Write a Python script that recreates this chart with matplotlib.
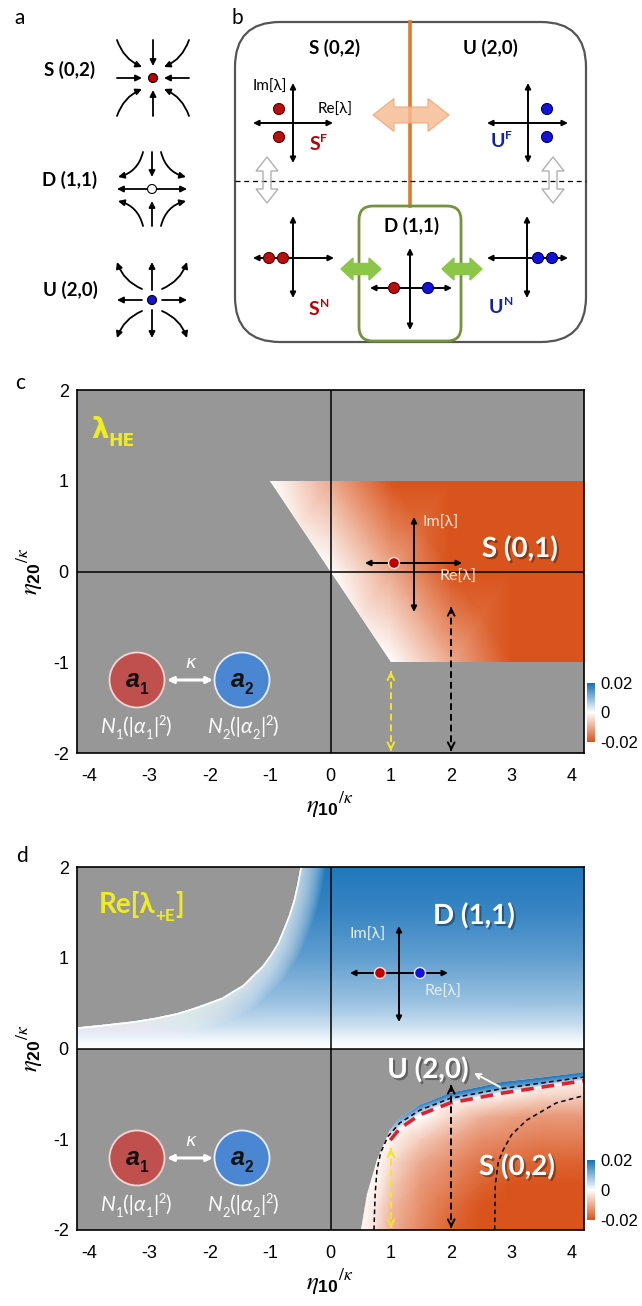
import matplotlib
matplotlib.use('Agg')
import matplotlib.pyplot as plt
import numpy as np
from matplotlib.colors import LinearSegmentedColormap, Normalize
from matplotlib.patches import Polygon, FancyBboxPatch, Circle, FancyArrowPatch
from matplotlib.cm import ScalarMappable
import matplotlib.patheffects as pe

plt.rcParams['axes.unicode_minus'] = False
plt.rcParams['mathtext.fontset'] = 'custom'
plt.rcParams['mathtext.rm'] = 'STIXGeneral'
plt.rcParams['mathtext.it'] = 'STIXGeneral:italic'
plt.rcParams['mathtext.bf'] = 'Liberation Sans:bold'

W, H = 642, 1306
SANS = ['Lato', 'DejaVu Sans']
ARIAL = ['Liberation Sans', 'DejaVu Sans']

# ------------------------------------------------------------------ data
x_ticks = [-4, -3, -2, -1, 0, 1, 2, 3, 4]
y_ticks = [-2, -1, 0, 1, 2]
cbar_ticks = [-0.02, 0.0, 0.02]
cbar_labels = ['-0.02', '0', '0.02']
VMIN, VMAX = -0.02, 0.02

# panel c : lambda_HE, stable region S(0,1)
c_region_x = [-1.0, 4.25, 4.25, 1.0]
c_region_y = [1.0, 1.0, -1.0, -1.0]
c_grid_x = [-1.2, -1.0, 0.0, 1.0, 2.0, 3.0, 4.25]
c_grid_y = [-1.0, 0.0, 1.0]
c_grid_v = [[0, 0, 0, 0, -0.010, -0.020, -0.020],
            [0, 0, 0, -0.010, -0.020, -0.020, -0.020],
            [0, 0, -0.010, -0.020, -0.020, -0.020, -0.020]]

# vertical double arrows (yellow at eta10=1, black at eta10=2)
arrow_x = [1.0, 2.0]
c_arrow_top = [-1.10, -0.39]
d_arrow_top = [-1.10, -0.40]
arrow_bottom = -1.98

# panel d : Re[lambda_+E]
d_up_edge_x = [-4.25, -3.8, -3.26, -2.9, -2.54, -2.3, -2.04, -1.8, -1.60, -1.45, -1.27,
               -1.13, -1.00, -0.88, -0.78, -0.69, -0.61, -0.55, -0.50]
d_up_edge_y = [0.23, 0.26, 0.30, 0.34, 0.39, 0.44, 0.50, 0.56, 0.64, 0.70, 0.82,
               0.91, 1.03, 1.16, 1.32, 1.47, 1.64, 1.82, 2.0]
d_up_prof_y = [0.0, 0.08, 0.25, 0.5, 0.75, 1.0, 1.5, 2.0]
d_up_prof_v = [0.0, 0.0008, 0.0045, 0.0085, 0.011, 0.0135, 0.017, 0.019]

d_outer_x = [0.50, 0.61, 0.77, 0.90, 0.99, 1.15, 1.48, 1.98, 2.86, 4.25]
d_outer_y = [-2.0, -1.60, -1.23, -1.02, -0.90, -0.77, -0.62, -0.49, -0.37, -0.255]
d_bd1_x = [0.72, 0.74, 0.77, 0.83, 0.95, 1.15, 1.48, 1.98, 2.86, 4.25]
d_bd1_y = [-2.0, -1.60, -1.34, -1.15, -0.97, -0.82, -0.68, -0.55, -0.44, -0.31]
d_red_x = [0.99, 1.15, 1.48, 1.98, 2.86, 4.25]
d_red_y = [-1.01, -0.88, -0.73, -0.60, -0.49, -0.35]
d_bd2_x = [2.72, 2.73, 2.78, 2.86, 3.00, 3.25, 3.74, 4.25]
d_bd2_y = [-2.0, -1.50, -1.25, -1.12, -0.95, -0.79, -0.60, -0.51]

d_band_x = [0.99, 1.15, 1.48, 1.98, 2.86, 4.25]
d_band_y = [[-0.90, -0.77, -0.62, -0.49, -0.37, -0.255],
            [-0.95, -0.82, -0.68, -0.55, -0.44, -0.31],
            [-1.01, -0.88, -0.73, -0.60, -0.49, -0.35]]
d_band_v = [[0.008, 0.014, 0.018, 0.020, 0.020, 0.020],
            [0.004, 0.008, 0.010, 0.011, 0.012, 0.013],
            [0.0, 0.0, 0.0, 0.0, 0.0, 0.0]]

d_low_grid_x = [0.25, 0.5, 0.75, 1.0, 1.5, 2.0, 2.5, 3.0, 3.5, 4.25]
d_low_grid_y = [-2.0, -1.75, -1.5, -1.25, -1.0, -0.75, -0.5, -0.25]
d_low_grid_v = [[0, 0, -0.004, -0.009, -0.014, -0.018, -0.020, -0.020, -0.020, -0.020],
                [0, 0, -0.003, -0.008, -0.013, -0.017, -0.020, -0.020, -0.020, -0.020],
                [0, 0, -0.001, -0.006, -0.012, -0.015, -0.018, -0.020, -0.020, -0.020],
                [0, 0, 0, -0.004, -0.010, -0.013, -0.016, -0.017, -0.018, -0.018],
                [0, 0, 0, -0.001, -0.006, -0.010, -0.013, -0.014, -0.015, -0.015],
                [0, 0, 0, 0, 0, -0.005, -0.009, -0.011, -0.012, -0.012],
                [0, 0, 0, 0, 0, 0, 0, -0.002, -0.004, -0.005],
                [0, 0, 0, 0, 0, 0, 0, 0, 0, 0]]

# ------------------------------------------------------------------ style
GRAY = '#979797'
CMAP = LinearSegmentedColormap.from_list(
    'ob', [(0.0, '#D9531C'), (0.5, '#FFFFFF'), (1.0, '#1570B8')])
NORM = Normalize(VMIN, VMAX)
RED = '#B80F0F'
BLUE = '#1212D8'

fig = plt.figure(figsize=(W / 100, H / 100), dpi=100)


def add_ax(left, top, right, bottom, **kw):
    return fig.add_axes([left / W, 1 - bottom / H, (right - left) / W, (bottom - top) / H], **kw)


ov = add_ax(0, 0, W, H, zorder=10)
ov.set_xlim(0, W)
ov.set_ylim(H, 0)
ov.axis('off')
ov.patch.set_alpha(0)
renderer = fig.canvas.get_renderer()


def rich(x, y, parts, size, color, weight='bold', family=SANS, ha='center', shadow=False):
    """x centre, y baseline (overlay px)"""
    items = []
    cx = 0.0
    for p in parts:
        s, kind = p[0], p[1]
        style = p[2] if len(p) > 2 else 'normal'
        fs = size * (0.62 if kind != 'n' else 1.0)
        dy = {'n': 0.0, 'sub': 0.30 * size * 100 / 72, 'sup': -0.40 * size * 100 / 72}[kind]
        t = ov.text(0, 0, s, fontsize=fs, color=color, fontweight=weight, fontstyle=style,
                    family=family, ha='left', va='baseline', zorder=8)
        w = t.get_window_extent(renderer).width
        items.append((t, cx, dy))
        cx += w
    x0 = x - cx / 2 if ha == 'center' else x
    for t, ox, dy in items:
        t.set_position((x0 + ox, y + dy))
        if shadow:
            t.set_path_effects([pe.withSimplePatchShadow(offset=(1.5, -1.5), shadow_rgbFace='k', alpha=0.35)])


def arrow(p0, p1, rad=0.0, lw=1.3, ms=9, style='-|>', color='k', ls='-'):
    ov.add_patch(FancyArrowPatch(p0, p1, arrowstyle=style, connectionstyle=f'arc3,rad={rad}',
                                 mutation_scale=ms, lw=lw, color=color, shrinkA=0, shrinkB=0,
                                 linestyle=ls, zorder=6))


def fat_double(cx, cy, L, hw, bw, hl, fc, ec, lw=1.0, alpha=1.0, vertical=False, z=3):
    a = L / 2
    pts = [(-a, 0), (-a + hl, hw), (-a + hl, bw), (a - hl, bw), (a - hl, hw), (a, 0),
           (a - hl, -hw), (a - hl, -bw), (-a + hl, -bw), (-a + hl, -hw)]
    if vertical:
        pts = [(q, p) for p, q in pts]
    ov.add_patch(Polygon([(cx + p, cy + q) for p, q in pts], closed=True, fc=fc, ec=ec,
                         lw=lw, alpha=alpha, zorder=z))


def dot(x, y, r, fc, ec='k', lw=0.8):
    ov.add_patch(Circle((x, y), r, fc=fc, ec=ec, lw=lw, zorder=7))


def cross(cx, cy, x0, x1, y0, y1, lw=1.4, ms=8):
    arrow((x0, cy), (x1, cy), style='<|-|>', lw=lw, ms=ms)
    arrow((cx, y0), (cx, y1), style='<|-|>', lw=lw, ms=ms)


# ------------------------------------------------------------------ panel a
ov.text(20, 18, 'a', fontsize=15, family=SANS, ha='center', va='center')
for lab, cy in [('S (0,2)', 70), ('D (1,1)', 180), ('U (2,0)', 290)]:
    ov.text(70, cy, lab, fontsize=13.5, fontweight='bold', family=SANS, ha='center', va='center')

RA = 0.22
# S (0,2) stable node
cx, cy = 153, 78
for (a0, a1) in [((-36, 0), (-11, 0)), ((36, 0), (11, 0)), ((0, -38), (0, -12)), ((0, 38), (0, 12))]:
    arrow((cx + a0[0], cy + a0[1]), (cx + a1[0], cy + a1[1]))
for (a0, a1, r) in [((-36, -38), (-11, -11), RA), ((36, -38), (11, -11), -RA),
                    ((-36, 38), (-11, 11), -RA), ((36, 38), (11, 11), RA)]:
    arrow((cx + a0[0], cy + a0[1]), (cx + a1[0], cy + a1[1]), rad=r)
dot(cx, cy, 4.5, '#C00000')

# D (1,1) saddle
cx, cy = 152, 189
for (a0, a1) in [((-5, 0), (-35, 0)), ((5, 0), (35, 0)), ((0, -37), (0, -12)), ((0, 37), (0, 12))]:
    arrow((cx + a0[0], cy + a0[1]), (cx + a1[0], cy + a1[1]))
for (a0, a1, r) in [((-9, -37), (-34, -12), -0.3), ((9, -37), (34, -12), 0.3),
                    ((-9, 37), (-34, 12), 0.3), ((9, 37), (34, 12), -0.3)]:
    arrow((cx + a0[0], cy + a0[1]), (cx + a1[0], cy + a1[1]), rad=r)
dot(cx, cy, 4.5, 'white')

# U (2,0) unstable node
cx, cy = 152, 300
for (a0, a1) in [((-10, 0), (-35, 0)), ((10, 0), (35, 0)), ((0, -10), (0, -38)), ((0, 10), (0, 38))]:
    arrow((cx + a0[0], cy + a0[1]), (cx + a1[0], cy + a1[1]))
for (a0, a1, r) in [((-10, -11), (-35, -38), -RA), ((10, -11), (35, -38), RA),
                    ((-10, 11), (-35, 38), RA), ((10, 11), (35, 38), -RA)]:
    arrow((cx + a0[0], cy + a0[1]), (cx + a1[0], cy + a1[1]), rad=r)
dot(cx, cy, 4.5, BLUE)

# ------------------------------------------------------------------ panel b
ov.text(237, 18, 'b', fontsize=15, family=SANS, ha='center', va='center')
ov.add_patch(FancyBboxPatch((235, 22), 351, 320, boxstyle='round,pad=0,rounding_size=45',
                            fc='white', ec='#555555', lw=1.6, zorder=1))
ov.plot([410, 410], [22, 206], color='#E07A28', lw=2.6, zorder=2)
ov.plot([235, 586], [181, 181], color='k', lw=0.9, ls=(0, (4, 3)), zorder=2)
ov.add_patch(FancyBboxPatch((359, 206), 102, 135, boxstyle='round,pad=0,rounding_size=14',
                            fc='none', ec='#76923C', lw=2.0, zorder=2))
ov.text(335, 48, 'S (0,2)', fontsize=13.5, fontweight='bold', family=SANS, ha='center', va='center')
ov.text(490, 48, 'U (2,0)', fontsize=13.5, fontweight='bold', family=SANS, ha='center', va='center')
ov.text(412, 226, 'D (1,1)', fontsize=13.5, fontweight='bold', family=SANS, ha='center', va='center')

fat_double(411, 115, 76, 16.5, 8, 21, '#F6BC94', '#EFA26E', lw=0.8, alpha=0.85)
fat_double(361, 269, 40, 11, 5.5, 12, '#8CC646', '#8CC646')
fat_double(462, 269, 40, 11, 5.5, 12, '#8CC646', '#8CC646')
fat_double(267, 180, 46, 11, 4, 14, 'none', '#B0B0B0', lw=1.0, vertical=True)
fat_double(553, 180, 46, 11, 4, 14, 'none', '#B0B0B0', lw=1.0, vertical=True)

# S^F
cross(293, 123, 253, 333, 163, 83)
dot(279, 109, 5.5, RED, ec='#600000')
dot(279, 137, 5.5, RED, ec='#600000')
ov.text(270, 87, 'Im[λ]', fontsize=11, family=SANS, ha='center', va='center')
ov.text(335, 110, 'Re[λ]', fontsize=11, family=SANS, ha='center', va='center')
rich(318, 150, [('S', 'n'), ('F', 'sup')], 14, '#C00000')
# U^F
cross(528, 123, 487, 568, 163, 83)
dot(547, 109, 5.5, BLUE, ec='#000060')
dot(547, 137, 5.5, BLUE, ec='#000060')
rich(501, 147, [('U', 'n'), ('F', 'sup')], 14, '#1020B0')
# S^N
cross(293, 258, 253, 334, 298, 216)
dot(269, 258, 5.5, RED, ec='#600000')
dot(283, 258, 5.5, RED, ec='#600000')
rich(319, 315, [('S', 'n'), ('N', 'sup')], 14, '#C00000')
# U^N
cross(527, 258, 487, 568, 298, 216)
dot(538, 258, 5.5, BLUE, ec='#000060')
dot(552, 258, 5.5, BLUE, ec='#000060')
rich(501, 313, [('U', 'n'), ('N', 'sup')], 14, '#1020B0')
# D centre
cross(410, 288, 370, 452, 330, 248)
dot(394, 288, 5.5, RED, ec='#600000')
dot(428, 288, 5.5, BLUE, ec='#000060')

# ------------------------------------------------------------------ panels c, d
def setup_axes(ax):
    ax.set_facecolor(GRAY)
    ax.set_xlim(-4.2, 4.2)
    ax.set_ylim(-2, 2)
    ax.set_xticks(x_ticks)
    ax.set_yticks(y_ticks)
    ax.set_xticklabels([str(v) for v in x_ticks])
    ax.set_yticklabels([str(v) for v in y_ticks])
    ax.tick_params(length=0, labelsize=13, pad=0)
    ax.tick_params(axis='x', pad=11)
    ax.tick_params(axis='y', pad=6)
    for lab in ax.get_xticklabels() + ax.get_yticklabels():
        lab.set_family(ARIAL)
    for s in ax.spines.values():
        s.set_linewidth(1.2)
        s.set_zorder(5)
    ax.axhline(0, color='k', lw=1.1, zorder=4)
    ax.axvline(0, color='k', lw=1.1, zorder=4)


def clip_patch(ax, xs, ys):
    return Polygon(np.column_stack([xs, ys]), closed=True, transform=ax.transData,
                   fc='none', ec='none')


def vert_arrows(ax, tops):
    cols = ['#F2E62A', 'k']
    for xv, top, col in zip(arrow_x, tops, cols):
        ax.plot([xv, xv], [top, arrow_bottom], color=col, lw=1.4, ls=(0, (3.5, 2)), zorder=6)
        ax.annotate('', xy=(xv, top), xytext=(xv, top - 0.05),
                    arrowprops=dict(arrowstyle='->', color=col, lw=1.4, mutation_scale=12,
                                    shrinkA=0, shrinkB=0), zorder=6)
        ax.annotate('', xy=(xv, arrow_bottom), xytext=(xv, arrow_bottom + 0.05),
                    arrowprops=dict(arrowstyle='->', color=col, lw=1.4, mutation_scale=12,
                                    shrinkA=0, shrinkB=0), zorder=6)


def colorbar(top, bottom):
    cax = add_ax(587, top, 595, bottom)
    cb = fig.colorbar(ScalarMappable(NORM, CMAP), cax=cax, ticks=cbar_ticks)
    cb.ax.set_yticklabels(cbar_labels)
    cb.outline.set_visible(False)
    cb.ax.tick_params(length=0, pad=4, labelsize=12)
    for lab in cb.ax.get_yticklabels():
        lab.set_family(ARIAL)


def inset_oscillators(top):
    cy = top + 290
    ov.add_patch(Circle((137, cy), 27.5, fc='#C0504D', ec='#F4D6D5', lw=1.3, zorder=5))
    ov.add_patch(Circle((242, cy), 27.5, fc='#4A86D2', ec='#E6EEF8', lw=1.3, zorder=5))
    arrow((167, cy), (213, cy), style='<|-|>', color='white', lw=2.2, ms=9)
    ov.text(191, cy - 17, 'κ', fontsize=13, color='white', style='italic', family=['DejaVu Sans'],
            ha='center', va='center')
    rich(137, cy + 7, [('a', 'n', 'italic'), ('1', 'sub')], 18, '#111111', weight='bold', family=ARIAL)
    rich(242, cy + 7, [('a', 'n', 'italic'), ('2', 'sub')], 18, '#111111', weight='bold', family=ARIAL)
    for xc, n in [(136, '1'), (243, '2')]:
        rich(xc, cy + 53, [('N', 'n', 'italic'), (n, 'sub'), ('(|', 'n'), ('α', 'n', 'italic'),
                           (n, 'sub'), ('|', 'n'), ('2', 'sup'), (')', 'n')],
             15, 'white', weight='normal', family=SANS)


def axis_labels(ax_top, ax_bottom):
    ov.text(330, ax_bottom + 52, r'$\eta_{\mathbf{10}}{}^{/\kappa}$', fontsize=18,
            ha='center', va='center')
    ov.text(30, (ax_top + ax_bottom) / 2, r'$\eta_{\mathbf{20}}{}^{/\kappa}$', fontsize=18,
            ha='center', va='center', rotation=90)


# ---- panel c
axc = add_ax(77, 390, 584, 753)
setup_axes(axc)
mc = axc.pcolormesh(c_grid_x, c_grid_y, np.array(c_grid_v), shading='gouraud', cmap=CMAP,
                    norm=NORM, zorder=1)
mc.set_clip_path(clip_patch(axc, c_region_x, c_region_y))
vert_arrows(axc, c_arrow_top)
colorbar(683, 742)
ov.text(20, 383, 'c', fontsize=15, family=SANS, ha='center', va='center')
rich(113, 438, [('λ', 'n'), ('HE', 'sub')], 20, '#F0EC1E', family=['DejaVu Sans'])
rich(520, 557, [('S (0,1)', 'n')], 20, 'white', shadow=True)
cross(414, 563, 365, 462, 612, 517, lw=1.4)
dot(394, 563, 5.5, '#C00000', ec='#FFE0E0', lw=1.0)
ov.text(422, 523, 'Im[λ]', fontsize=11.5, color='#FCE6D8', family=SANS, ha='left', va='center')
ov.text(458, 577, 'Re[λ]', fontsize=11.5, color='#FCE6D8', family=SANS, ha='center', va='center')
inset_oscillators(390)
axis_labels(390, 753)

# ---- panel d
axd = add_ax(77, 867, 584, 1230)
setup_axes(axd)
# upper half: D(1,1) region right of the boundary curve
up_clip_x = [-4.25] + d_up_edge_x + [4.25, 4.25]
up_clip_y = [0.0] + d_up_edge_y + [2.0, 0.0]
prof = np.array(d_up_prof_v)
mu = axd.pcolormesh([-4.25, 4.25], d_up_prof_y, np.column_stack([prof, prof]),
                    shading='gouraud', cmap=CMAP, norm=NORM, zorder=1)
mu.set_clip_path(clip_patch(axd, up_clip_x, up_clip_y))
for lw_ in np.linspace(2, 36, 28):
    ln, = axd.plot(d_up_edge_x, d_up_edge_y, color='white', lw=lw_, alpha=0.045, zorder=2,
                   solid_joinstyle='round')
    ln.set_clip_path(clip_patch(axd, up_clip_x, up_clip_y))
ln, = axd.plot(d_up_edge_x, d_up_edge_y, color='white', lw=2.5, zorder=2, solid_joinstyle='round')
ln.set_clip_path(clip_patch(axd, up_clip_x, up_clip_y))

# lower half: S(0,2) / U(2,0) region
low_clip_x = d_outer_x + [4.25]
low_clip_y = d_outer_y + [-2.0]
ml = axd.pcolormesh(d_low_grid_x, d_low_grid_y, np.array(d_low_grid_v), shading='gouraud',
                    cmap=CMAP, norm=NORM, zorder=1)
ml.set_clip_path(clip_patch(axd, low_clip_x, low_clip_y))
for lw_ in np.linspace(2, 20, 12):
    ln, = axd.plot(d_outer_x[:5], d_outer_y[:5], color='#FFF4EE', lw=lw_, alpha=0.06, zorder=2)
    ln.set_clip_path(clip_patch(axd, low_clip_x, low_clip_y))
bx = np.tile(np.array(d_band_x), (3, 1))
mb = axd.pcolormesh(bx, np.array(d_band_y), np.array(d_band_v), shading='gouraud',
                    cmap=CMAP, norm=NORM, zorder=2)
mb.set_clip_path(clip_patch(axd, low_clip_x, low_clip_y))

axd.plot(d_bd1_x, d_bd1_y, color='k', lw=1.1, ls=(0, (3, 2.2)), zorder=3)
axd.plot(d_bd2_x, d_bd2_y, color='k', lw=1.1, ls=(0, (3, 2.2)), zorder=3)
axd.plot(d_red_x, d_red_y, color='#E3202A', lw=2.6, ls=(0, (3.5, 2.2)), zorder=3)
vert_arrows(axd, d_arrow_top)
colorbar(1160, 1220)

ov.text(22, 856, 'd', fontsize=15, family=SANS, ha='center', va='center')
rich(141, 913, [('Re[λ', 'n'), ('+E', 'sub'), (']', 'n')], 20, '#F0EC1E', family=['Lato', 'DejaVu Sans'])
rich(474, 924, [('D (1,1)', 'n')], 20, 'white', shadow=True)
rich(428, 1078, [('U (2,0)', 'n')], 20, 'white', shadow=True)
rich(517, 1175, [('S (0,2)', 'n')], 20, 'white', shadow=True)
arrow((500, 1087), (474, 1073), color='white', lw=1.4, ms=9, style='->')
cross(399, 973, 350, 448, 1022, 926, lw=1.4)
dot(380, 973, 5.5, '#C00000', ec='#FFE0E0', lw=1.0)
dot(420, 973, 5.5, BLUE, ec='#E0E8FF', lw=1.0)
ov.text(368, 935, 'Im[λ]', fontsize=11.5, color='#E4EEF8', family=SANS, ha='center', va='center')
ov.text(443, 992, 'Re[λ]', fontsize=11.5, color='#E4EEF8', family=SANS, ha='center', va='center')
inset_oscillators(868)
axis_labels(867, 1230)

fig.savefig('out.png', dpi=100)
